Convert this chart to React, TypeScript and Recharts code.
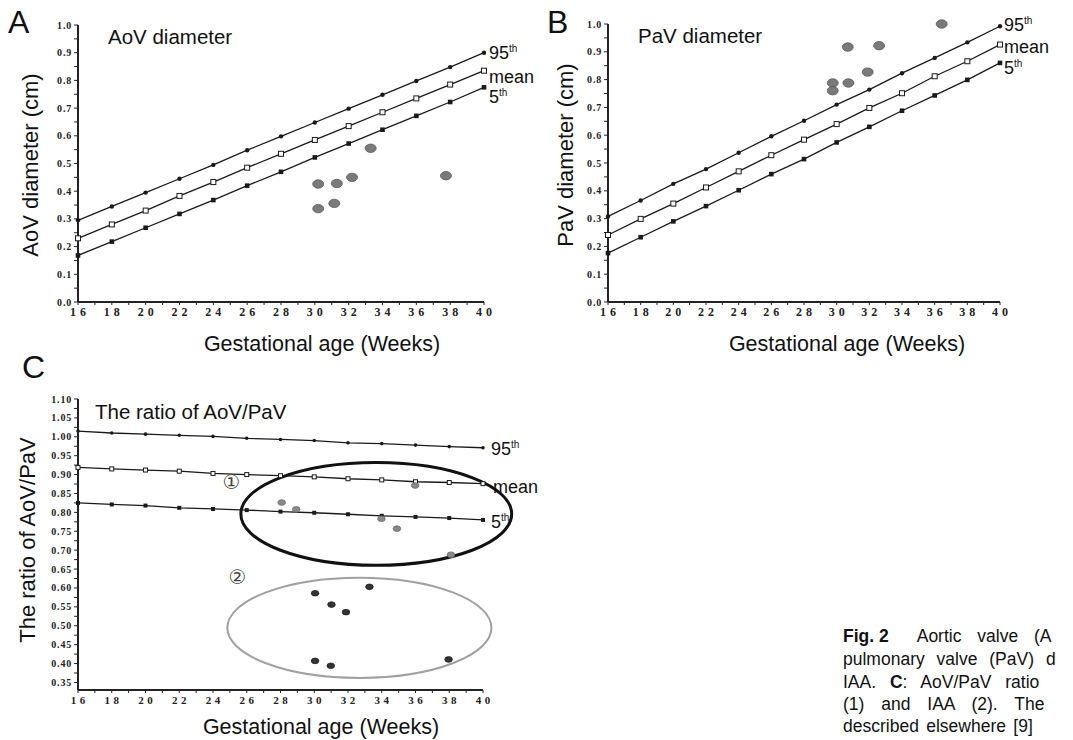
import React from "react";
import {
  ScatterChart,
  Scatter,
  XAxis,
  YAxis,
  ReferenceArea,
  ReferenceDot,
} from "recharts";

// gestational weeks of the reference curves
const WEEKS = [16, 18, 20, 22, 24, 26, 28, 30, 32, 34, 36, 38, 40];
const WEEK_TICKS = [
  16, 17, 18, 19, 20, 21, 22, 23, 24, 25, 26, 27, 28, 29, 30, 31, 32, 33, 34,
  35, 36, 37, 38, 39, 40,
];
const DIAM_TICKS = [
  0, 0.05, 0.1, 0.15, 0.2, 0.25, 0.3, 0.35, 0.4, 0.45, 0.5, 0.55, 0.6, 0.65,
  0.7, 0.75, 0.8, 0.85, 0.9, 0.95, 1.0,
];
const RATIO_TICKS = [
  0.35, 0.375, 0.4, 0.425, 0.45, 0.475, 0.5, 0.525, 0.55, 0.575, 0.6, 0.625,
  0.65, 0.675, 0.7, 0.725, 0.75, 0.775, 0.8, 0.825, 0.85, 0.875, 0.9, 0.925,
  0.95, 0.975, 1.0, 1.025, 1.05, 1.075, 1.1,
];

// A: AoV diameter (cm)
const AOV_P95 = [0.295, 0.345, 0.395, 0.445, 0.495, 0.548, 0.598, 0.648, 0.698, 0.748, 0.798, 0.848, 0.9];
const AOV_MEAN = [0.23, 0.28, 0.33, 0.383, 0.433, 0.485, 0.535, 0.585, 0.635, 0.685, 0.735, 0.785, 0.835];
const AOV_P5 = [0.168, 0.218, 0.268, 0.318, 0.368, 0.42, 0.47, 0.522, 0.572, 0.622, 0.672, 0.722, 0.775];
const AOV_IAA_WEEKS = [30.2, 30.2, 31.3, 31.15, 32.2, 33.3, 37.75];
const AOV_IAA = [0.426, 0.337, 0.428, 0.356, 0.45, 0.555, 0.456];

// B: PaV diameter (cm)
const PAV_P95 = [0.308, 0.365, 0.425, 0.478, 0.537, 0.596, 0.652, 0.71, 0.764, 0.823, 0.878, 0.934, 0.992];
const PAV_MEAN = [0.241, 0.299, 0.354, 0.412, 0.47, 0.528, 0.584, 0.64, 0.698, 0.751, 0.812, 0.866, 0.926];
const PAV_P5 = [0.176, 0.233, 0.29, 0.345, 0.402, 0.46, 0.514, 0.574, 0.63, 0.688, 0.743, 0.799, 0.86];
const PAV_IAA_WEEKS = [29.76, 29.76, 30.68, 30.72, 31.9, 32.6, 36.43];
const PAV_IAA = [0.788, 0.76, 0.917, 0.788, 0.827, 0.922, 1.0];

// C: AoV/PaV ratio
const RATIO_P95 = [1.015, 1.01, 1.007, 1.004, 1.001, 0.996, 0.993, 0.99, 0.984, 0.982, 0.978, 0.974, 0.971];
const RATIO_MEAN = [0.919, 0.915, 0.912, 0.909, 0.903, 0.9, 0.897, 0.894, 0.889, 0.886, 0.881, 0.879, 0.876];
const RATIO_P5 = [0.825, 0.821, 0.818, 0.812, 0.809, 0.806, 0.802, 0.799, 0.795, 0.791, 0.788, 0.785, 0.78];
const GROUP1_WEEKS = [28.07, 28.93, 33.98, 34.9, 35.98, 38.1];
const GROUP1 = [0.826, 0.808, 0.783, 0.757, 0.871, 0.688];
const GROUP2_WEEKS = [30.05, 33.27, 31.02, 31.88, 30.05, 30.98, 37.96];
const GROUP2 = [0.586, 0.603, 0.556, 0.536, 0.407, 0.394, 0.411];

// circled groups: [week from, week to, ratio from, ratio to]
const GROUP1_RING = [25.65, 41.7, 0.66, 0.932];
const GROUP2_RING = [24.85, 40.5, 0.362, 0.627];

const pts = (xs: number[], ys: number[]) => xs.map((x, i) => ({ x, y: ys[i] }));

const SANS = "'Liberation Sans', Arial, sans-serif";
const SERIF = "'Liberation Serif', 'Times New Roman', serif";
const INK = "#1a1a1a";

const marker =
  (kind: string, s: number, label?: string, dx = 5, dy = 5) =>
  (props: any) => {
    const { cx, cy, payload } = props;
    let m;
    if (kind === "dot") m = <circle cx={cx} cy={cy} r={s} fill={INK} />;
    else if (kind === "open")
      m = <rect x={cx - s} y={cy - s} width={s * 2} height={s * 2} fill="#fff" stroke={INK} strokeWidth={1} />;
    else m = <rect x={cx - s} y={cy - s} width={s * 2} height={s * 2} fill={INK} />;
    const last = label && payload && payload.x === 40;
    return (
      <g>
        {m}
        {last && (
          <text x={cx + dx} y={cy + dy} fontFamily={SANS} fontSize={18} fill="#111">
            {label}
            {label !== "mean" && (
              <tspan fontSize={10} dy={-7}>
                th
              </tspan>
            )}
          </text>
        )}
      </g>
    );
  };

const blob =
  (rx: number, ry: number, fill: string, stroke: string) =>
  (props: any) =>
    <ellipse cx={props.cx} cy={props.cy} rx={rx} ry={ry} fill={fill} stroke={stroke} strokeWidth={0.8} />;

const XTick = ({ x, y, payload, size = 12, spacing = 4 }: any) => {
  const v = payload.value;
  if (v % 2 !== 0) return null;
  return (
    <text x={x + spacing / 2} y={y} dy={9} textAnchor="middle" fontFamily={SERIF} fontWeight="bold" fontSize={size} letterSpacing={spacing} fill="#222">
      {String(v)}
    </text>
  );
};

const YTick = ({ x, y, payload, every, digits }: any) => {
  const v = payload.value;
  const k = Math.round(v * 1000);
  if (k % every !== 0) return null;
  return (
    <text x={x} y={y} dy={3.5} textAnchor="end" fontFamily={SERIF} fontWeight="bold" fontSize={10} letterSpacing={0.8} fill="#222">
      {v.toFixed(digits)}
    </text>
  );
};

const axisLine = { stroke: "#222", strokeWidth: 2 };
const tickLine = { stroke: "#222", strokeWidth: 1 };
const curve = { stroke: INK, strokeWidth: 1.3 };

interface PanelProps {
  left: number;
  top: number;
  width: number;
  height: number;
  margin: { top: number; right: number; bottom: number; left: number };
  p95: number[];
  mean: number[];
  p5: number[];
  offsets: number[][];
  children?: React.ReactNode;
}

const DiameterPanel = ({ left, top, width, height, margin, p95, mean, p5, offsets, children }: PanelProps) => (
  <div style={{ position: "absolute", left, top }}>
    <ScatterChart width={width} height={height} margin={margin}>
      <XAxis type="number" dataKey="x" domain={[16, 40]} ticks={WEEK_TICKS} interval={0} height={30} axisLine={axisLine} tickLine={tickLine} tickSize={3} tick={<XTick />} />
      <YAxis type="number" dataKey="y" domain={[0, 1]} ticks={DIAM_TICKS} interval={0} width={40} axisLine={axisLine} tickLine={tickLine} tickSize={4} tick={<YTick every={100} digits={1} />} />
      <Scatter data={pts(WEEKS, p95)} line={curve} shape={marker("dot", 2.2, "95", offsets[0][0], offsets[0][1])} isAnimationActive={false} />
      <Scatter data={pts(WEEKS, mean)} line={curve} shape={marker("open", 2.5, "mean", offsets[1][0], offsets[1][1])} isAnimationActive={false} />
      <Scatter data={pts(WEEKS, p5)} line={curve} shape={marker("square", 2.3, "5", offsets[2][0], offsets[2][1])} isAnimationActive={false} />
      {children}
    </ScatterChart>
  </div>
);

const ring = (stroke: string, w: number) => (p: any) =>
  <ellipse cx={p.x + p.width / 2} cy={p.y + p.height / 2} rx={p.width / 2} ry={p.height / 2} fill="none" stroke={stroke} strokeWidth={w} />;

const circled = (ch: string) => (p: any) =>
  <text x={p.cx} y={p.cy} dy={7} textAnchor="middle" fontFamily="'DejaVu Sans', sans-serif" fontSize={20} fill="#444">{ch}</text>;

const Txt = (p: any) => <text fontFamily={SANS} fill="#111" {...p} />;

export default function App() {
  return (
    <div style={{ position: "relative", width: 1073, height: 740, overflow: "hidden", background: "#fff" }}>
      <style>{"body{margin:0}"}</style>

      <DiameterPanel
        left={0}
        top={0}
        width={540}
        height={332}
        margin={{ top: 25, right: 56, bottom: 0, left: 38 }}
        p95={AOV_P95}
        mean={AOV_MEAN}
        p5={AOV_P5}
        offsets={[[5, 6], [5, 12], [5, 16]]}
      >
        <Scatter data={pts(AOV_IAA_WEEKS, AOV_IAA)} shape={blob(5.5, 4.2, "#7a7a7a", "#5a5a5a")} isAnimationActive={false} />
      </DiameterPanel>

      <DiameterPanel
        left={530}
        top={0}
        width={543}
        height={332}
        margin={{ top: 24, right: 73, bottom: 0, left: 38 }}
        p95={PAV_P95}
        mean={PAV_MEAN}
        p5={PAV_P5}
        offsets={[[4, 5], [4, 8], [4, 11]]}
      >
        <Scatter data={pts(PAV_IAA_WEEKS, PAV_IAA)} shape={blob(5.5, 4.2, "#7a7a7a", "#5a5a5a")} isAnimationActive={false} />
      </DiameterPanel>

      <div style={{ position: "absolute", left: 0, top: 370 }}>
        <ScatterChart width={540} height={350} margin={{ top: 29, right: 57, bottom: 0, left: 38 }}>
          <XAxis type="number" dataKey="x" domain={[16, 40]} ticks={WEEK_TICKS} interval={0} height={30} axisLine={axisLine} tickLine={tickLine} tickSize={3} tick={<XTick size={11} spacing={3.5} />} />
          <YAxis type="number" dataKey="y" domain={[0.33, 1.1]} ticks={RATIO_TICKS} interval={0} width={40} axisLine={axisLine} tickLine={tickLine} tickSize={4} tick={<YTick every={50} digits={2} />} />
          <ReferenceArea x1={GROUP1_RING[0]} x2={GROUP1_RING[1]} y1={GROUP1_RING[2]} y2={GROUP1_RING[3]} ifOverflow="visible" shape={ring("#111", 3)} />
          <ReferenceArea x1={GROUP2_RING[0]} x2={GROUP2_RING[1]} y1={GROUP2_RING[2]} y2={GROUP2_RING[3]} ifOverflow="visible" shape={ring("#a0a0a0", 2)} />
          <Scatter data={pts(WEEKS, RATIO_P95)} line={curve} shape={marker("dot", 1.8, "95", 8, 7)} isAnimationActive={false} />
          <Scatter data={pts(WEEKS, RATIO_MEAN)} line={curve} shape={marker("open", 2, "mean", 10, 9)} isAnimationActive={false} />
          <Scatter data={pts(WEEKS, RATIO_P5)} line={curve} shape={marker("square", 2, "5", 8, 8)} isAnimationActive={false} />
          <Scatter data={pts(GROUP1_WEEKS, GROUP1)} shape={blob(3.8, 2.8, "#8a8a8a", "#6a6a6a")} isAnimationActive={false} />
          <Scatter data={pts(GROUP2_WEEKS, GROUP2)} shape={blob(3.8, 2.8, "#333", "#222")} isAnimationActive={false} />
          <ReferenceDot x={25.1} y={0.88} r={1} shape={circled("①")} />
          <ReferenceDot x={25.45} y={0.63} r={1} shape={circled("②")} />
        </ScatterChart>
      </div>

      <svg width={1073} height={740} style={{ position: "absolute", left: 0, top: 0, pointerEvents: "none" }}>
        <Txt x={8} y={33} fontSize={32}>A</Txt>
        <Txt x={108} y={44} fontSize={20.5}>AoV diameter</Txt>
        <Txt x={30} y={165} fontSize={22} textAnchor="middle" dominantBaseline="central" transform="rotate(-90 30 165)">AoV diameter (cm)</Txt>
        <Txt x={322} y={351} fontSize={21.5} textAnchor="middle">Gestational age (Weeks)</Txt>

        <Txt x={547} y={33} fontSize={32}>B</Txt>
        <Txt x={638} y={43} fontSize={20.5}>PaV diameter</Txt>
        <Txt x={565} y={155} fontSize={22} textAnchor="middle" dominantBaseline="central" transform="rotate(-90 565 155)">PaV diameter (cm)</Txt>
        <Txt x={847} y={351} fontSize={21.5} textAnchor="middle">Gestational age (Weeks)</Txt>

        <Txt x={22} y={378} fontSize={32}>C</Txt>
        <Txt x={95} y={419} fontSize={20.5}>The ratio of AoV/PaV</Txt>
        <Txt x={27} y={540} fontSize={22} textAnchor="middle" dominantBaseline="central" transform="rotate(-90 27 540)">The ratio of AoV/PaV</Txt>
        <Txt x={321} y={734} fontSize={21.5} textAnchor="middle">Gestational age (Weeks)</Txt>

        <Txt x={843} y={642} fontSize={17.5}>
          <tspan fontWeight="bold">Fig. 2</tspan>
          <tspan dx={28} wordSpacing={11}>Aortic valve (A</tspan>
        </Txt>
        <Txt x={843} y={665} fontSize={17.5} wordSpacing={7}>pulmonary valve (PaV) d</Txt>
        <Txt x={843} y={688} fontSize={17.5} wordSpacing={9}>
          IAA. <tspan fontWeight="bold">C</tspan>: AoV/PaV ratio
        </Txt>
        <Txt x={843} y={710} fontSize={17.5} wordSpacing={12}>(1) and IAA (2). The</Txt>
        <Txt x={843} y={732} fontSize={17.5} wordSpacing={2.5}>described elsewhere [9]</Txt>
      </svg>
    </div>
  );
}
